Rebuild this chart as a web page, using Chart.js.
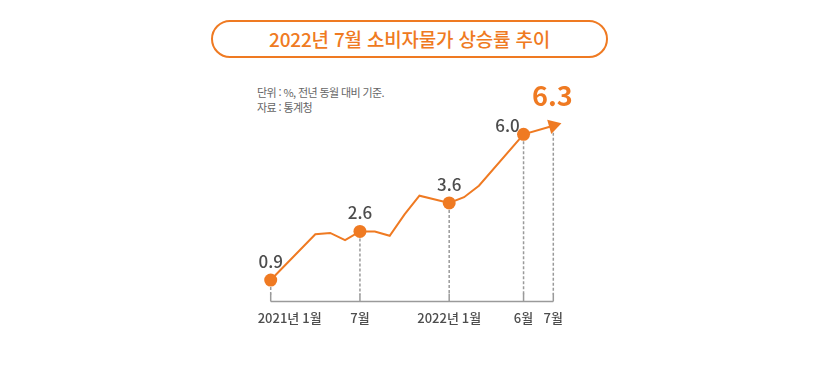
<!DOCTYPE html>
<html lang="ko">
<head>
<meta charset="utf-8">
<title>2022년 7월 소비자물가 상승률 추이</title>
<script src="https://cdn.jsdelivr.net/npm/chart.js@4/dist/chart.umd.min.js"></script>
<style>
	html, body { margin: 0; padding: 0; background: #fff; }
	body { width: 820px; height: 366px; position: relative; overflow: hidden; font-family: "Noto Sans CJK KR", "Noto Sans", sans-serif; }
	#chart { position: absolute; left: 0; top: 0; }
	.title-box {
		position: absolute; left: 211px; top: 20px; width: 393px; height: 34px;
		border: 2px solid #ef7a22; border-radius: 20px;
		color: #ef7a22; font-size: 19px; font-weight: 500;
		text-align: center; line-height: 34px; letter-spacing: -0.2px;
	}
	.note {
		position: absolute; left: 257px; top: 85px;
		color: #666; font-size: 11px; line-height: 15px; letter-spacing: -0.6px;
	}
</style>
</head>
<body>
<div class="title-box">2022년 7월 소비자물가 상승률 추이</div>
<div class="note">단위 : %, 전년 동월 대비 기준.<br>자료 : 통계청</div>
<canvas id="chart" width="820" height="366"></canvas>
<script>
// 월별 소비자물가 상승률 (picture read, null = no visible vertex)
const months = ["2021-01", "2021-02", "2021-03", "2021-04", "2021-05", "2021-06", "2021-07", "2021-08", "2021-09", "2021-10", "2021-11", "2021-12", "2022-01", "2022-02", "2022-03", "2022-04", "2022-05", "2022-06", "2022-07"];
const monthSlots = [0, 1, 2, 3, 4, 5, 6, 7, 8, 9, 10, 11, 12, 13, 14, 15, 16, 17, 19];
const cpiRates = [0.9, null, null, 2.5, 2.55, 2.3, 2.6, 2.6, 2.45, 3.2, 3.85, null, 3.6, 3.8, 4.2, null, null, 6.0, 6.3];

// 값 표시하는 달
const markedIdx = [0, 6, 12, 17, 18];

// x축 눈금
const tickSlots = [0, 6, 12, 17, 19];
const tickLabels = ["2021년 1월", "7월", "2022년 1월", "6월", "7월"];

const ORANGE = "#ef7a22";
const GRAY = "#9a9a9a";
const TEXT = "#4d4d4d";
const FONT = '"Noto Sans CJK KR", "Noto Sans", sans-serif';
const lastIdx = cpiRates.length - 1;

// 점선, 기준선, 라벨 그리기
const guidePlugin = {
	id: "guides",
	beforeDatasetsDraw(chart) {
		const { ctx, chartArea, scales } = chart;
		const meta = chart.getDatasetMeta(0);
		const base = chartArea.bottom;
		ctx.save();
		ctx.strokeStyle = GRAY;
		ctx.lineWidth = 1.5;

		// 점선
		ctx.setLineDash([3, 2]);
		for (const i of markedIdx) {
			const p = meta.data[i];
			ctx.beginPath();
			ctx.moveTo(p.x, p.y + 7);
			ctx.lineTo(p.x, base - 7);
			ctx.stroke();
		}
		ctx.setLineDash([]);

		// 눈금
		for (const s of tickSlots) {
			const x = scales.x.getPixelForValue(s);
			ctx.beginPath();
			ctx.moveTo(x, base - 8);
			ctx.lineTo(x, base);
			ctx.stroke();
		}

		// 기준선
		ctx.beginPath();
		ctx.moveTo(scales.x.getPixelForValue(tickSlots[0]), base);
		ctx.lineTo(scales.x.getPixelForValue(tickSlots[tickSlots.length - 1]), base);
		ctx.stroke();

		// x축 라벨
		ctx.fillStyle = TEXT;
		ctx.font = `500 13px ${FONT}`;
		ctx.textBaseline = "middle";
		tickSlots.forEach((s, i) => {
			const x = scales.x.getPixelForValue(s);
			if (i === 0) {
				ctx.textAlign = "left";
				ctx.fillText(tickLabels[i], x - 13, base + 17);
			} else {
				ctx.textAlign = "center";
				ctx.fillText(tickLabels[i], x, base + 17);
			}
		});
		ctx.restore();
	},
	afterDatasetsDraw(chart) {
		const { ctx } = chart;
		const meta = chart.getDatasetMeta(0);
		ctx.save();
		ctx.textAlign = "center";
		ctx.textBaseline = "alphabetic";
		for (const i of markedIdx) {
			const p = meta.data[i];
			const txt = cpiRates[i].toFixed(1);
			if (i === lastIdx) {
				ctx.fillStyle = ORANGE;
				ctx.font = `bold 27px ${FONT}`;
				ctx.fillText(txt, p.x - 1, p.y - 20);
			} else if (i === 17) {
				ctx.fillStyle = TEXT;
				ctx.font = `500 17px ${FONT}`;
				ctx.fillText(txt, p.x - 16, p.y - 2);
			} else {
				ctx.fillStyle = TEXT;
				ctx.font = `500 17px ${FONT}`;
				ctx.fillText(txt, p.x, p.y - 12);
			}
		}
		ctx.restore();
	},
};

// 화살표 방향
const arrowAngle = (c) => {
	const { x, y } = c.chart.scales;
	if (!x || !y) return 75;
	const dx = x.getPixelForValue(monthSlots[lastIdx]) - x.getPixelForValue(monthSlots[lastIdx - 1]);
	const dy = y.getPixelForValue(cpiRates[lastIdx]) - y.getPixelForValue(cpiRates[lastIdx - 1]);
	return 90 + (Math.atan2(dy, dx) * 180) / Math.PI;
};

const chart = new Chart(document.getElementById("chart"), {
	type: "line",
	data: {
		datasets: [
			{
				label: "소비자물가 상승률",
				data: months.map((m, i) => ({ x: monthSlots[i], y: cpiRates[i] })),
				borderColor: ORANGE,
				borderWidth: 2,
				tension: 0,
				spanGaps: true,
				clip: false,
				pointBackgroundColor: ORANGE,
				pointBorderWidth: 0,
				pointStyle: (c) => (c.dataIndex === lastIdx ? "triangle" : "circle"),
				pointRadius: (c) => {
					if (c.dataIndex === lastIdx) return 8.5;
					return markedIdx.includes(c.dataIndex) ? 6.5 : 0;
				},
				pointHoverRadius: 0,
				pointRotation: (c) => (c.dataIndex === lastIdx ? arrowAngle(c) : 0),
			},
		],
	},
	options: {
		responsive: false,
		animation: false,
		devicePixelRatio: 1,
		layout: { padding: { left: 270.7, right: 266.7, top: 105.7, bottom: 64.5 } },
		scales: {
			x: { type: "linear", min: 0, max: 19, display: false },
			y: { min: 0.15, max: 7, display: false },
		},
		plugins: {
			legend: { display: false },
			tooltip: { enabled: false },
		},
	},
	plugins: [guidePlugin],
});
</script>
</body>
</html>
